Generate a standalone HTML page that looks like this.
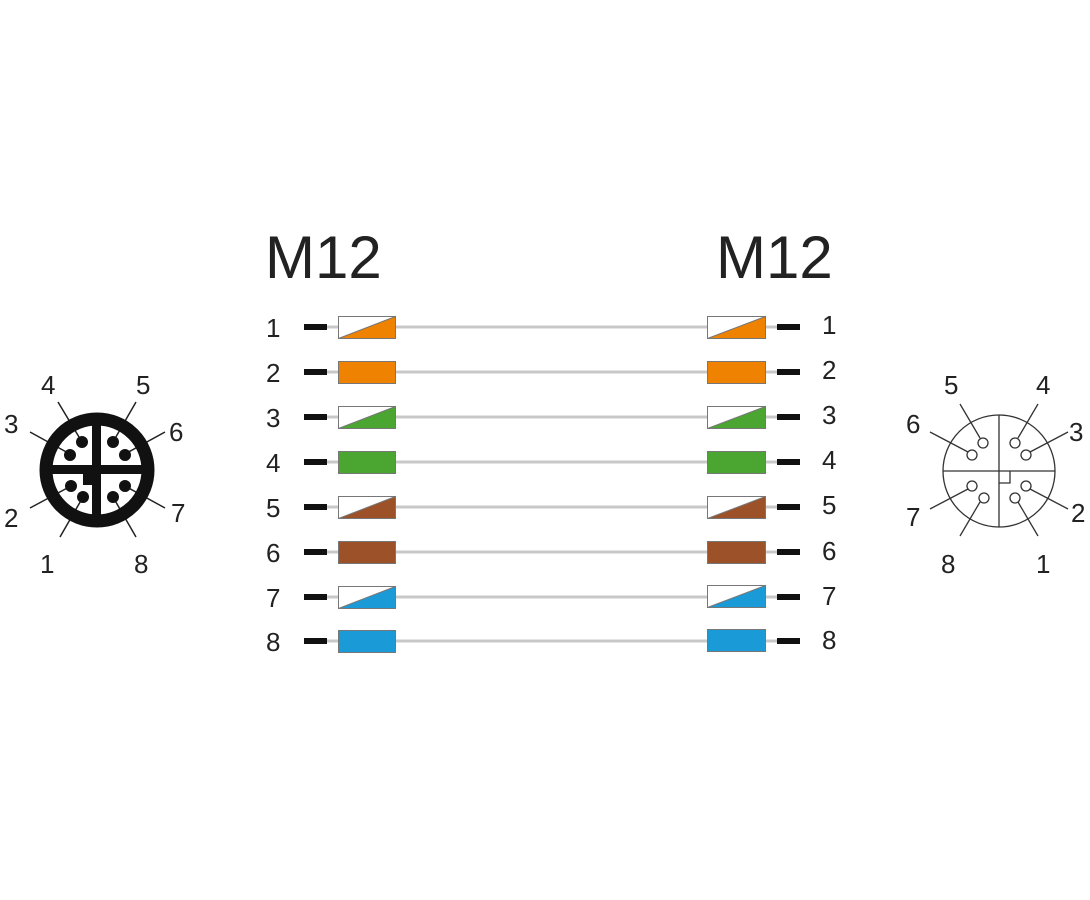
<!DOCTYPE html>
<html><head><meta charset="utf-8"><style>
html,body{margin:0;padding:0;background:#fff;}
svg{display:block;}
text{font-family:"Liberation Sans",sans-serif;fill:#222;}
</style></head><body>
<svg width="1090" height="900" viewBox="0 0 1090 900" xmlns="http://www.w3.org/2000/svg">
<text x="265" y="278" font-size="60">M12</text>
<text x="716" y="278" font-size="60">M12</text>

<g id="rows">
<!-- row template generated inline -->
</g>

<!-- rows -->
<g stroke="#c8c8c8" stroke-width="3">
<line x1="395" y1="327" x2="708" y2="327"/>
<line x1="395" y1="372" x2="708" y2="372"/>
<line x1="395" y1="417" x2="708" y2="417"/>
<line x1="395" y1="462" x2="708" y2="462"/>
<line x1="395" y1="507" x2="708" y2="507"/>
<line x1="395" y1="552" x2="708" y2="552"/>
<line x1="395" y1="597" x2="708" y2="597"/>
<line x1="395" y1="641" x2="708" y2="641"/>
<line x1="327" y1="327" x2="338" y2="327"/><line x1="327" y1="372" x2="338" y2="372"/><line x1="327" y1="417" x2="338" y2="417"/><line x1="327" y1="462" x2="338" y2="462"/><line x1="327" y1="507" x2="338" y2="507"/><line x1="327" y1="552" x2="338" y2="552"/><line x1="327" y1="597" x2="338" y2="597"/><line x1="327" y1="641" x2="338" y2="641"/>
<line x1="765" y1="327" x2="777" y2="327"/><line x1="765" y1="372" x2="777" y2="372"/><line x1="765" y1="417" x2="777" y2="417"/><line x1="765" y1="462" x2="777" y2="462"/><line x1="765" y1="507" x2="777" y2="507"/><line x1="765" y1="552" x2="777" y2="552"/><line x1="765" y1="597" x2="777" y2="597"/><line x1="765" y1="641" x2="777" y2="641"/>
</g>
<g fill="#111">
<rect x="304" y="324" width="23" height="6"/><rect x="304" y="369" width="23" height="6"/><rect x="304" y="414" width="23" height="6"/><rect x="304" y="459" width="23" height="6"/><rect x="304" y="504" width="23" height="6"/><rect x="304" y="549" width="23" height="6"/><rect x="304" y="594" width="23" height="6"/><rect x="304" y="638" width="23" height="6"/>
<rect x="777" y="324" width="23" height="6"/><rect x="777" y="369" width="23" height="6"/><rect x="777" y="414" width="23" height="6"/><rect x="777" y="459" width="23" height="6"/><rect x="777" y="504" width="23" height="6"/><rect x="777" y="549" width="23" height="6"/><rect x="777" y="594" width="23" height="6"/><rect x="777" y="638" width="23" height="6"/>
</g>
<g font-size="26">
<text x="266" y="337">1</text><text x="266" y="382">2</text><text x="266" y="427">3</text><text x="266" y="472">4</text><text x="266" y="517">5</text><text x="266" y="562">6</text><text x="266" y="607">7</text><text x="266" y="651">8</text>
<text x="822" y="334">1</text><text x="822" y="379">2</text><text x="822" y="424">3</text><text x="822" y="469">4</text><text x="822" y="514">5</text><text x="822" y="560">6</text><text x="822" y="605">7</text><text x="822" y="649">8</text>
</g>
<g stroke="#777" stroke-width="1">
<!-- left boxes -->
<rect x="338.5" y="316.5" width="57" height="22" fill="#fff"/><polygon points="338.5,338.5 395.5,316.5 395.5,338.5" fill="#ef8200"/>
<rect x="338.5" y="361.5" width="57" height="22" fill="#ef8200"/>
<rect x="338.5" y="406.5" width="57" height="22" fill="#fff"/><polygon points="338.5,428.5 395.5,406.5 395.5,428.5" fill="#4aa531"/>
<rect x="338.5" y="451.5" width="57" height="22" fill="#4aa531"/>
<rect x="338.5" y="496.5" width="57" height="22" fill="#fff"/><polygon points="338.5,518.5 395.5,496.5 395.5,518.5" fill="#9c5128"/>
<rect x="338.5" y="541.5" width="57" height="22" fill="#9c5128"/>
<rect x="338.5" y="586.5" width="57" height="22" fill="#fff"/><polygon points="338.5,608.5 395.5,586.5 395.5,608.5" fill="#1b9ad8"/>
<rect x="338.5" y="630.5" width="57" height="22" fill="#1b9ad8"/>
<!-- right boxes -->
<rect x="707.5" y="316.5" width="58" height="22" fill="#fff"/><polygon points="707.5,338.5 765.5,316.5 765.5,338.5" fill="#ef8200"/>
<rect x="707.5" y="361.5" width="58" height="22" fill="#ef8200"/>
<rect x="707.5" y="406.5" width="58" height="22" fill="#fff"/><polygon points="707.5,428.5 765.5,406.5 765.5,428.5" fill="#4aa531"/>
<rect x="707.5" y="451.5" width="58" height="22" fill="#4aa531"/>
<rect x="707.5" y="496.5" width="58" height="22" fill="#fff"/><polygon points="707.5,518.5 765.5,496.5 765.5,518.5" fill="#9c5128"/>
<rect x="707.5" y="541.5" width="58" height="22" fill="#9c5128"/>
<rect x="707.5" y="585.5" width="58" height="22" fill="#fff"/><polygon points="707.5,607.5 765.5,585.5 765.5,607.5" fill="#1b9ad8"/>
<rect x="707.5" y="629.5" width="58" height="22" fill="#1b9ad8"/>
</g>

<!-- left connector -->
<g stroke="#222" stroke-width="1.5">
<line x1="82" y1="442" x2="58" y2="402"/>
<line x1="70" y1="454" x2="30" y2="432"/>
<line x1="113" y1="442" x2="136" y2="402"/>
<line x1="125" y1="454" x2="165" y2="432"/>
<line x1="71" y1="486" x2="30" y2="508"/>
<line x1="83" y1="497" x2="60" y2="537"/>
<line x1="125" y1="486" x2="165" y2="508"/>
<line x1="113" y1="497" x2="136" y2="537"/>
</g>
<circle cx="97" cy="470" r="51" fill="none" stroke="#111" stroke-width="13"/>
<rect x="92" y="425" width="9" height="92" fill="#111"/>
<rect x="48" y="465" width="98" height="9" fill="#111"/>
<rect x="83" y="470" width="18" height="15" fill="#111"/>
<g fill="#111">
<circle cx="82" cy="442" r="6"/><circle cx="70" cy="455" r="6"/><circle cx="113" cy="442" r="6"/><circle cx="125" cy="455" r="6"/>
<circle cx="71" cy="486" r="6"/><circle cx="83" cy="497" r="6"/><circle cx="125" cy="486" r="6"/><circle cx="113" cy="497" r="6"/>
</g>
<g font-size="26">
<text x="41" y="394">4</text><text x="136" y="394">5</text><text x="4" y="433">3</text><text x="169" y="441">6</text>
<text x="4" y="527">2</text><text x="171" y="522">7</text><text x="40" y="573">1</text><text x="134" y="573">8</text>
</g>

<!-- right connector -->
<g stroke="#333" stroke-width="1.3" fill="none">
<circle cx="999" cy="471" r="56"/>
<line x1="999" y1="415" x2="999" y2="527"/>
<line x1="943" y1="471" x2="1055" y2="471"/>
<polyline points="999,483 1010,483 1010,471"/>
<line x1="980" y1="438" x2="960" y2="404"/>
<line x1="968" y1="452" x2="930" y2="432"/>
<line x1="1018" y1="438" x2="1038" y2="404"/>
<line x1="1030" y1="452" x2="1068" y2="432"/>
<line x1="968" y1="489" x2="930" y2="509"/>
<line x1="980" y1="502" x2="960" y2="536"/>
<line x1="1030" y1="489" x2="1068" y2="509"/>
<line x1="1018" y1="502" x2="1038" y2="536"/>
</g>
<g stroke="#333" stroke-width="1.3" fill="#fff">
<circle cx="983" cy="443" r="5"/><circle cx="972" cy="455" r="5"/><circle cx="1015" cy="443" r="5"/><circle cx="1026" cy="455" r="5"/>
<circle cx="972" cy="486" r="5"/><circle cx="984" cy="498" r="5"/><circle cx="1026" cy="486" r="5"/><circle cx="1015" cy="498" r="5"/>
</g>
<g font-size="26">
<text x="944" y="394">5</text><text x="1036" y="394">4</text><text x="906" y="433">6</text><text x="1069" y="441">3</text>
<text x="906" y="526">7</text><text x="1071" y="522">2</text><text x="941" y="573">8</text><text x="1036" y="573">1</text>
</g>
</svg>
</body></html>
